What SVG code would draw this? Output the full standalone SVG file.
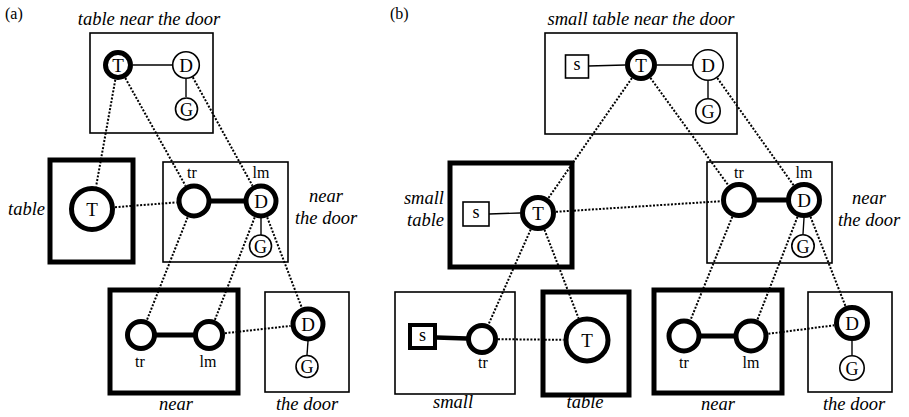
<svg xmlns="http://www.w3.org/2000/svg" width="909" height="417" viewBox="0 0 909 417">
<style>
.bg{fill:#fff}
.box{fill:none;stroke:#000;stroke-width:1.6}
.boxT{fill:none;stroke:#000;stroke-width:5}
.n{fill:#fff;stroke:#000;stroke-width:1.6}
.nT{fill:#fff;stroke:#000;stroke-width:5}
.ln{stroke:#000;stroke-width:1.4;fill:none}
.lnT{stroke:#000;stroke-width:5;fill:none}
.dot{stroke:#000;stroke-width:2;stroke-dasharray:2 1.6;fill:none}
text{font-family:'Liberation Serif','Times New Roman','DejaVu Serif',serif;fill:#000}
.lab{font-size:19px;text-anchor:middle}
.sm{font-size:16px;text-anchor:middle}
.it{font-style:italic;font-size:18.5px}
.mid{text-anchor:middle}
.end{text-anchor:end}
</style>
<rect class="bg" x="0" y="0" width="909" height="417"/>

<g id="connectors">
  <line class="dot" x1="115.3" y1="79.8" x2="96.1" y2="186.4"/>
  <line class="dot" x1="125.3" y1="78.1" x2="185.5" y2="185.7"/>
  <line class="dot" x1="192.8" y1="77.3" x2="252.5" y2="185.7"/>
  <line class="dot" x1="115" y1="207.2" x2="176.6" y2="202.4"/>
  <line class="dot" x1="187.6" y1="217.3" x2="146.9" y2="320.1"/>
  <line class="dot" x1="254.7" y1="217.3" x2="214.8" y2="320.1"/>
  <line class="dot" x1="267.2" y1="217.3" x2="301.8" y2="307.7"/>
  <line class="dot" x1="224.9" y1="333.2" x2="290.6" y2="325.9"/>

  <line class="dot" x1="631.9" y1="78.1" x2="548.3" y2="198.2"/>
  <line class="dot" x1="650.4" y1="77.9" x2="728.4" y2="185.4"/>
  <line class="dot" x1="717.3" y1="78" x2="793.6" y2="185.3"/>
  <line class="dot" x1="556" y1="211.8" x2="721" y2="201.2"/>
  <line class="dot" x1="530.7" y1="229.5" x2="488.5" y2="324.4"/>
  <line class="dot" x1="544.5" y1="229.8" x2="578.5" y2="318.1"/>
  <line class="dot" x1="498" y1="339.2" x2="563.5" y2="339.8"/>
  <line class="dot" x1="732.3" y1="216.7" x2="690.6" y2="319.8"/>
  <line class="dot" x1="797.5" y1="216.8" x2="757.4" y2="319.7"/>
  <line class="dot" x1="810.5" y1="216.8" x2="845.5" y2="306.2"/>
  <line class="dot" x1="768.4" y1="333.8" x2="834.1" y2="325.3"/>
</g>

<text x="5" y="19" font-size="16">(a)</text>
<text x="390" y="19" font-size="16">(b)</text>

<!-- Panel (a) -->
<g id="a-top">
  <rect class="box" x="90" y="33" width="123" height="100"/>
  <line class="ln" x1="133" y1="65" x2="172" y2="65"/>
  <line class="ln" x1="186" y1="79" x2="186" y2="97"/>
  <circle class="nT" cx="118" cy="65" r="12.5"/>
  <text class="lab" x="118" y="71.5">T</text>
  <circle class="n" cx="186" cy="65" r="13.3"/>
  <text class="lab" x="186" y="71.5">D</text>
  <circle class="n" cx="186.5" cy="109" r="11"/>
  <text class="lab" x="186.5" y="115.5" style="font-size:18px">G</text>
  <text class="it mid" x="149" y="25">table near the door</text>
</g>

<g id="a-table">
  <rect class="boxT" x="50" y="160" width="83" height="102"/>
  <circle class="nT" cx="92" cy="209" r="20.5"/>
  <text class="lab" x="92" y="215.5">T</text>
  <text class="it end" x="45" y="215">table</text>
</g>

<g id="a-neardoor">
  <rect class="box" x="163" y="162" width="125" height="100"/>
  <line class="lnT" x1="210" y1="201" x2="245" y2="201"/>
  <line class="ln" x1="261" y1="218" x2="261" y2="235"/>
  <circle class="nT" cx="194" cy="201" r="15"/>
  <circle class="nT" cx="261" cy="201" r="15"/>
  <text class="lab" x="261" y="207.5">D</text>
  <circle class="n" cx="260.5" cy="246" r="11"/>
  <text class="lab" x="260.5" y="252.5" style="font-size:18px">G</text>
  <text class="sm" x="192" y="178">tr</text>
  <text class="sm" x="261" y="178">lm</text>
  <text class="it mid" x="326" y="202">near</text>
  <text class="it mid" x="326" y="224">the door</text>
</g>

<g id="a-near">
  <rect class="boxT" x="110" y="290" width="128" height="103"/>
  <line class="lnT" x1="156" y1="335" x2="194" y2="335"/>
  <circle class="nT" cx="141" cy="335" r="13.5"/>
  <circle class="nT" cx="209" cy="335" r="13.5"/>
  <text class="sm" x="140" y="367">tr</text>
  <text class="sm" x="208" y="367">lm</text>
  <text class="it mid" x="176" y="410">near</text>
</g>

<g id="a-door">
  <rect class="box" x="265" y="292" width="84" height="100"/>
  <line class="ln" x1="308" y1="341" x2="307" y2="355"/>
  <circle class="nT" cx="308" cy="324" r="15"/>
  <text class="lab" x="308" y="330.5">D</text>
  <circle class="n" cx="307" cy="366.5" r="11"/>
  <text class="lab" x="307" y="373" style="font-size:18px">G</text>
  <text class="it mid" x="307" y="410">the door</text>
</g>

<!-- Panel (b) -->
<g id="b-top">
  <rect class="box" x="545" y="33" width="192" height="101"/>
  <line class="ln" x1="588.5" y1="66" x2="625" y2="65"/>
  <line class="ln" x1="657" y1="65" x2="692" y2="65"/>
  <line class="ln" x1="708" y1="81" x2="708" y2="98"/>
  <rect class="n" x="565.5" y="55" width="23" height="23"/>
  <text class="lab" x="577" y="70" style="font-size:18px">s</text>
  <circle class="nT" cx="641" cy="65" r="13.5"/>
  <text class="lab" x="641" y="71.5">T</text>
  <circle class="n" cx="708" cy="65" r="15.2"/>
  <text class="lab" x="708" y="71.5">D</text>
  <circle class="n" cx="708" cy="111" r="12.2"/>
  <text class="lab" x="708" y="117.5" style="font-size:18px">G</text>
  <text class="it mid" x="641" y="25">small table near the door</text>
</g>

<g id="b-smalltable">
  <rect class="boxT" x="450" y="163" width="122" height="104"/>
  <line class="ln" x1="489" y1="214" x2="520" y2="213"/>
  <rect class="n" x="463" y="202" width="26" height="24"/>
  <text class="lab" x="476" y="218" style="font-size:18px">s</text>
  <circle class="nT" cx="538" cy="213" r="15.5"/>
  <text class="lab" x="538" y="219.5">T</text>
  <text class="it end" x="444" y="204">small</text>
  <text class="it end" x="444" y="226">table</text>
</g>

<g id="b-neardoor">
  <rect class="box" x="707" y="162" width="125" height="101"/>
  <line class="lnT" x1="755" y1="200" x2="788" y2="200"/>
  <line class="ln" x1="804" y1="218" x2="803" y2="234"/>
  <circle class="nT" cx="739" cy="200" r="15.5"/>
  <circle class="nT" cx="804" cy="200" r="15.5"/>
  <text class="lab" x="804" y="206.5">D</text>
  <circle class="n" cx="803" cy="246" r="11.2"/>
  <text class="lab" x="803" y="252.5" style="font-size:18px">G</text>
  <text class="sm" x="739" y="178">tr</text>
  <text class="sm" x="804" y="178">lm</text>
  <text class="it mid" x="869" y="204">near</text>
  <text class="it mid" x="869" y="226">the door</text>
</g>

<g id="b-small">
  <rect class="box" x="395" y="292" width="120" height="102"/>
  <line class="lnT" x1="436" y1="337.5" x2="467" y2="338.5" style="stroke-width:4.5"/>
  <rect class="nT" x="410" y="325" width="25" height="23" style="stroke-width:4"/>
  <text class="lab" x="422.5" y="341" style="font-size:18px">s</text>
  <circle class="nT" cx="482" cy="339" r="13.5"/>
  <text class="sm" x="483" y="368">tr</text>
  <text class="it mid" x="453" y="408">small</text>
</g>

<g id="b-table">
  <rect class="boxT" x="543" y="292" width="86" height="103"/>
  <circle class="nT" cx="587" cy="340" r="21"/>
  <text class="lab" x="587" y="346.5">T</text>
  <text class="it mid" x="585" y="408">table</text>
</g>

<g id="b-near">
  <rect class="boxT" x="654" y="290" width="128" height="103"/>
  <line class="lnT" x1="700" y1="336" x2="735" y2="336"/>
  <circle class="nT" cx="684" cy="336" r="15"/>
  <circle class="nT" cx="751" cy="336" r="15"/>
  <text class="sm" x="684" y="368">tr</text>
  <text class="sm" x="751" y="368">lm</text>
  <text class="it mid" x="718" y="410">near</text>
</g>

<g id="b-door">
  <rect class="box" x="808" y="292" width="84" height="100"/>
  <line class="ln" x1="852" y1="341" x2="852" y2="355"/>
  <circle class="nT" cx="852" cy="323" r="15.5"/>
  <text class="lab" x="852" y="329.5">D</text>
  <circle class="n" cx="852" cy="368" r="12.2"/>
  <text class="lab" x="852" y="374.5" style="font-size:18px">G</text>
  <text class="it mid" x="854" y="410">the door</text>
</g>
</svg>
